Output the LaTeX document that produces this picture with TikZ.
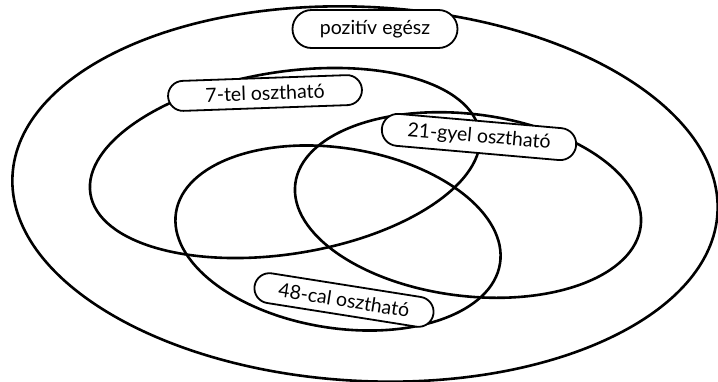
\documentclass[tikz,border=0pt]{standalone}
\usepackage{fontspec}
\setmainfont{Lato}
\usetikzlibrary{shapes.misc}
\begin{document}
\begin{tikzpicture}[x=1pt,y=-1pt,
  setline/.style={line width=2.6pt, black},
  bubble/.style={shape=rounded rectangle, draw=black, line width=1.8pt, fill=white,
     inner sep=0pt, font=\fontsize{19.5}{21}\selectfont}]
\useasboundingbox (0,0) rectangle (718,381);
% outer set
\draw[setline, rotate around={-3:(365,194)}] (365,194) ellipse [x radius=353, y radius=187];
% 7
\draw[setline, rotate around={9:(285,163)}] (285,163) ellipse [x radius=197, y radius=91];
% 21
\draw[setline, rotate around={-7:(468,205)}] (468,205) ellipse [x radius=174, y radius=91];
% 48
\draw[setline, rotate around={-9:(338,238)}] (338,238) ellipse [x radius=164, y radius=90];
% labels
\node[bubble, minimum width=165pt, minimum height=38pt] (pos) at (375,29) {pozitív egész};
\node[bubble, minimum width=194pt, minimum height=30pt, rotate=2] (l7) at (265,93) {7-tel osztható};
\node[bubble, minimum width=195pt, minimum height=32pt, rotate=-5] (l21) at (479,137) {21-gyel osztható};
\node[bubble, minimum width=181pt, minimum height=30pt, rotate=-9] (l48) at (344,300) {48-cal osztható};
\end{tikzpicture}
\end{document}
